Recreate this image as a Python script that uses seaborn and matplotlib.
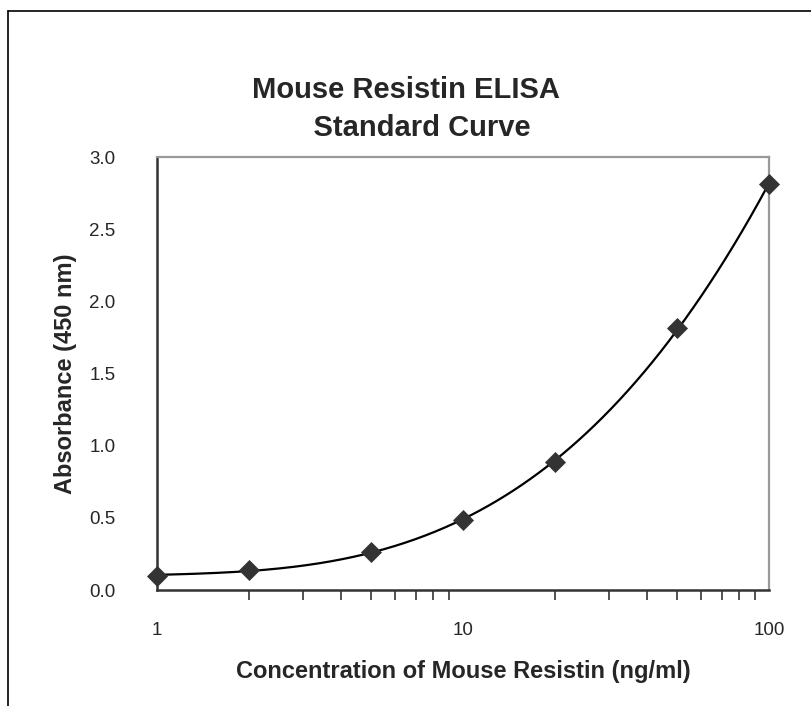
# Mouse Resistin ELISA standard curve - seaborn recreation
import numpy as np
import pandas as pd
import matplotlib
matplotlib.use('Agg')
import matplotlib.pyplot as plt
import matplotlib.ticker as mticker
from matplotlib.lines import Line2D
import seaborn as sns

# standard concentrations (ng/ml) and measured absorbance at 450 nm
concentration = [1, 2, 5, 10, 20, 50, 100]
absorbance = [0.10, 0.14, 0.26, 0.485, 0.89, 1.815, 2.81]

x_ticks = [1, 10, 100]
x_tick_labels = ['1', '10', '100']
y_ticks = [0.0, 0.5, 1.0, 1.5, 2.0, 2.5, 3.0]

title_text = 'Mouse Resistin ELISA\n    Standard Curve'
x_label = 'Concentration of Mouse Resistin (ng/ml)'
y_label = 'Absorbance (450 nm)'

sns.set_style('white')
plt.rcParams['font.family'] = ['Liberation Sans', 'DejaVu Sans']

df = pd.DataFrame({'conc': concentration, 'abs': absorbance})

# cubic trendline in log10(concentration) through the standards
coef = np.polyfit(np.log10(df['conc']), df['abs'], 3)
fit_x = np.logspace(0, 2, 300)
fit_df = pd.DataFrame({'conc': fit_x, 'abs': np.polyval(coef, np.log10(fit_x))})

fig = plt.figure(figsize=(8.12, 7.06), dpi=100)
ax = fig.add_axes([0.1933, 0.1643, 0.7537, 0.6133])

sns.lineplot(data=fit_df, x='conc', y='abs', color='black', linewidth=1.6, ax=ax)
sns.scatterplot(data=df, x='conc', y='abs', marker='D', s=115, color='#333333',
                edgecolor='#333333', linewidth=0, ax=ax, zorder=3, clip_on=False)

ax.set_xscale('log')
ax.set_xlim(1, 100)
ax.set_ylim(0, 3.0)
ax.set_xticks(x_ticks)
ax.set_xticklabels(x_tick_labels)
ax.xaxis.set_minor_locator(mticker.LogLocator(base=10, subs=np.arange(2, 10)))
ax.xaxis.set_minor_formatter(mticker.NullFormatter())
ax.set_yticks(y_ticks)
ax.yaxis.set_major_formatter(mticker.FormatStrFormatter('%.1f'))

ax.tick_params(axis='x', which='major', direction='out', length=8, width=1.2,
               color='#333333', pad=15, labelsize=13.5)
ax.tick_params(axis='x', which='minor', direction='out', length=7, width=1.2,
               color='#333333', bottom=True)
ax.tick_params(axis='y', direction='out', length=9, width=1.2, color='#555555',
               pad=21, labelsize=13.5)

for side in ['left', 'bottom']:
    ax.spines[side].set_color('#333333')
    ax.spines[side].set_linewidth(1.8)
for side in ['top', 'right']:
    ax.spines[side].set_color('#999999')
    ax.spines[side].set_linewidth(1.6)

ax.set_xlabel(x_label, fontsize=17, fontweight='bold', labelpad=15)
ax.set_ylabel(y_label, fontsize=17, fontweight='bold', labelpad=9)

fig.text(0.50, 0.8456, title_text, ha='center', va='center', fontsize=21,
         fontweight='bold', linespacing=1.45)

# outer chart border (only top and left edges are visible in the crop)
fig.add_artist(Line2D([8 / 812, 1.0], [1 - 11 / 706, 1 - 11 / 706], color='black', linewidth=1.2))
fig.add_artist(Line2D([8 / 812, 8 / 812], [1 - 11 / 706, 0.0], color='black', linewidth=1.2))

fig.savefig('out.png', dpi=100)
